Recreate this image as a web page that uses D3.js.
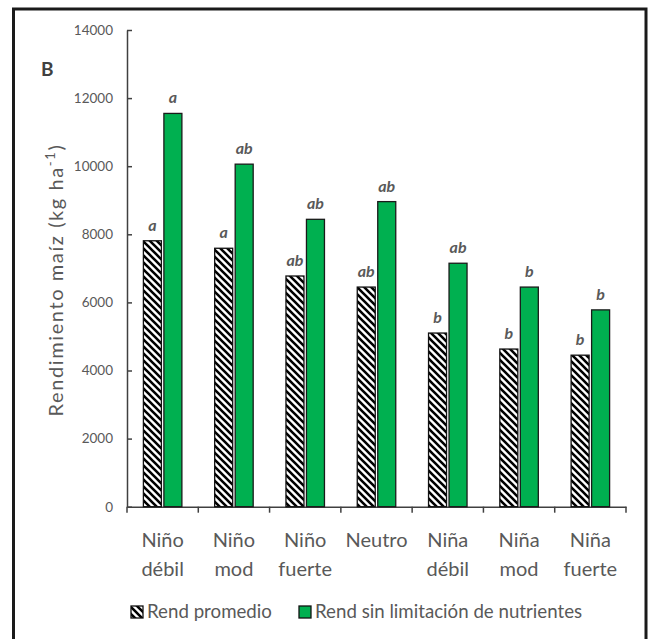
<!DOCTYPE html>
<html><head><meta charset="utf-8">
<script src="https://cdn.jsdelivr.net/npm/d3@7"></script>
<style>body{margin:0;background:#fff}svg{display:block}</style>
</head><body>
<script>
const categories = [["Niño","débil"],["Niño","mod"],["Niño","fuerte"],["Neutro",""],["Niña","débil"],["Niña","mod"],["Niña","fuerte"]];
const seriesNames = ["Rend promedio","Rend sin limitación de nutrientes"];
const rendPromedio = [7810, 7590, 6775, 6450, 5100, 4630, 4450];
const rendSinLimit = [11550, 10060, 8440, 8960, 7150, 6450, 5780];
const lettersPromedio = ["a","a","ab","ab","b","b","b"];
const lettersSinLimit = ["a","ab","ab","ab","ab","b","b"];
const yTicks = [0,2000,4000,6000,8000,10000,12000,14000];

const W=650,H=639;
const svg=d3.select("body").append("svg").attr("width",W).attr("height",H);
const defs=svg.append("defs");
const pat=defs.append("pattern").attr("id","hatch").attr("patternUnits","userSpaceOnUse")
  .attr("width",7).attr("height",7);
pat.append("rect").attr("width",7).attr("height",7).attr("fill","#fff");
pat.append("path").attr("d","M-1,-1 L8,8 M-8,-1 L1,8 M6,-1 L15,8").attr("stroke","#000").attr("stroke-width",2.6);

// outer frame
svg.append("rect").attr("x",13.5).attr("y",9).attr("width",632.5).attr("height",640)
  .attr("fill","none").attr("stroke","#1a1a1a").attr("stroke-width",3);

const x0=127,x1=626,y0=506.7,yTop=30;
const x=d3.scaleBand().domain(d3.range(categories.length)).range([x0,x1]).padding(0);
const y=d3.scaleLinear().domain([0,14000]).range([y0,yTop]);
const font="Lato, 'Open Sans', sans-serif";
const grey="#595959";

// y axis
const yAxis=d3.axisLeft(y).tickValues(yTicks).tickFormat(d3.format("d")).tickSizeInner(-5).tickSizeOuter(0).tickPadding(14);
const gy=svg.append("g").attr("transform",`translate(${x0},0)`).call(yAxis);
gy.select(".domain").attr("stroke","#404040").attr("stroke-width",1.5);
gy.selectAll(".tick line").attr("stroke","#404040").attr("stroke-width",1.5);
gy.selectAll(".tick text").attr("fill",grey).attr("font-family",font).attr("font-size",13.5);

// x axis
const xAxis=d3.axisBottom(x).tickValues([]).tickSizeOuter(0);
const gx=svg.append("g").attr("transform",`translate(0,${y0})`).call(xAxis);
gx.select(".domain").attr("stroke","#404040").attr("stroke-width",1.5);
const bounds=d3.range(categories.length+1).map(i=> i<categories.length? x(i): x1);
gx.selectAll(".b").data(bounds).enter().append("line")
  .attr("x1",d=>d).attr("x2",d=>d).attr("y1",0).attr("y2",6)
  .attr("stroke","#404040").attr("stroke-width",1.5);

// bars
const bw=18, gap=2.5;
const g=svg.append("g");
categories.forEach((c,i)=>{
  const cx=x(i)+x.bandwidth()/2;
  const hx=cx-gap/2-bw, gxp=cx+gap/2;
  g.append("rect").attr("x",hx).attr("y",y(rendPromedio[i])).attr("width",bw)
    .attr("height",y0-y(rendPromedio[i])).attr("fill","url(#hatch)").attr("stroke","#111").attr("stroke-width",1.3);
  g.append("rect").attr("x",gxp).attr("y",y(rendSinLimit[i])).attr("width",bw)
    .attr("height",y0-y(rendSinLimit[i])).attr("fill","#00B050").attr("stroke","#1a1a1a").attr("stroke-width",1.3);
  g.append("text").attr("x",hx+bw/2).attr("y",y(rendPromedio[i])-10).attr("text-anchor","middle")
    .attr("font-family",font).attr("font-style","italic").attr("font-weight","bold").attr("font-size",16)
    .attr("fill",grey).text(lettersPromedio[i]);
  g.append("text").attr("x",gxp+bw/2).attr("y",y(rendSinLimit[i])-10).attr("text-anchor","middle")
    .attr("font-family",font).attr("font-style","italic").attr("font-weight","bold").attr("font-size",16)
    .attr("fill",grey).text(lettersSinLimit[i]);
  const t=svg.append("text").attr("text-anchor","middle").attr("font-family",font).attr("font-size",20).attr("fill",grey);
  t.append("tspan").attr("x",cx).attr("y",547).text(c[0]);
  if(c[1]) t.append("tspan").attr("x",cx).attr("y",576).text(c[1]);
});

// B label
svg.append("text").attr("x",41).attr("y",76).attr("font-family",font).attr("font-weight","bold")
  .attr("font-size",19).attr("fill","#404040").text("B");

// y label
const yl=svg.append("text").attr("transform","translate(63,280) rotate(-90)").attr("text-anchor","middle")
  .attr("font-family",font).attr("font-size",20).attr("letter-spacing",1.6).attr("fill",grey);
yl.append("tspan").text("Rendimiento maíz (kg ha");
yl.append("tspan").attr("dy",-8).attr("font-size",13).text("-1");
yl.append("tspan").attr("dy",8).text(")");

// legend
const lg=svg.append("g").attr("font-family",font).attr("font-size",18.7).attr("fill",grey);
lg.append("rect").attr("x",131).attr("y",606).attr("width",12).attr("height",12).attr("fill","url(#hatch)").attr("stroke","#111").attr("stroke-width",1.3);
lg.append("text").attr("x",147).attr("y",618).attr("fill",grey).text(seriesNames[0]);
lg.append("rect").attr("x",299).attr("y",606).attr("width",12).attr("height",12).attr("fill","#00B050").attr("stroke","#111").attr("stroke-width",1.3);
lg.append("text").attr("x",315).attr("y",618).attr("fill",grey).text(seriesNames[1]);
</script>
</body></html>
